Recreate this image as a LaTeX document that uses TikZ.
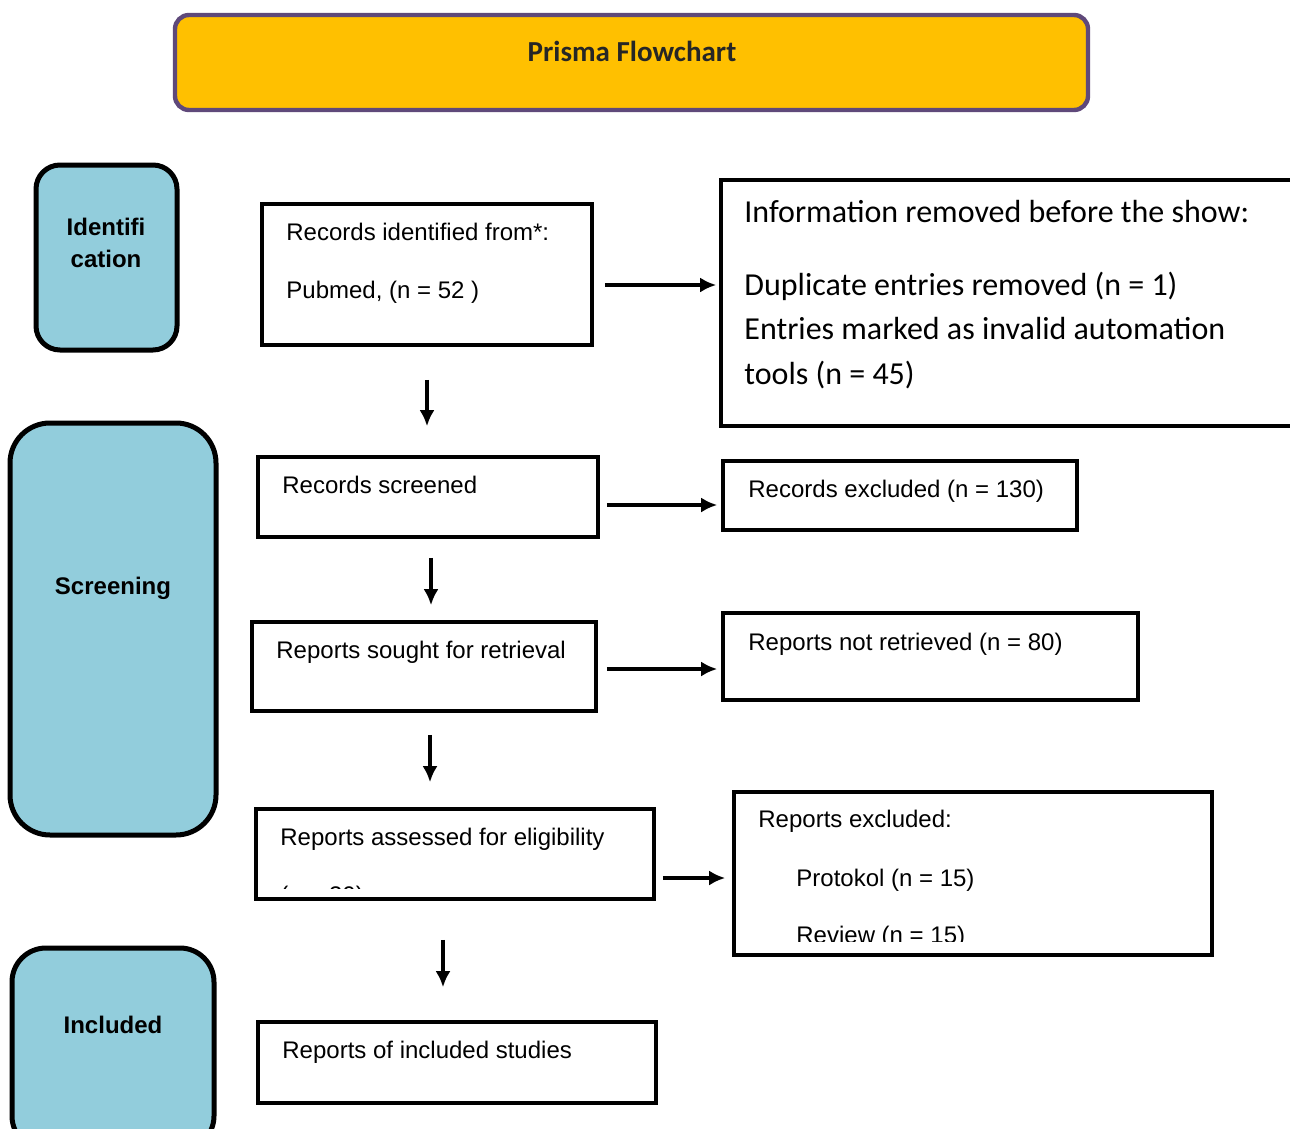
\documentclass[tikz,border=0pt]{standalone}
\usepackage{fontspec}
\setmainfont{Liberation Sans}
\newfontfamily\calib{Carlito}
\usepackage{xcolor}
\usepackage{tikz}
\usetikzlibrary{arrows.meta,calc}
\definecolor{gold}{HTML}{FFC000}
\definecolor{plum}{HTML}{5F497A}
\definecolor{sky}{HTML}{92CDDC}

\begin{document}
\begin{tikzpicture}[x=0.5pt, y=-0.5pt, every node/.style={font=\fontsize{12}{14}\selectfont},
    box/.style={draw, line width=1.8pt, inner sep=0pt},
    phase/.style={draw, line width=2.5pt, fill=sky, inner sep=0pt},
    lbl/.style={font=\bfseries\fontsize{12}{16}\selectfont, align=center},
    txt/.style={anchor=base west, inner sep=0pt},
    info/.style={anchor=base west, inner sep=0pt, font=\calib\fontsize{16}{20}\selectfont},
    arr/.style={line width=1.9pt, -{Latex[length=8pt,width=7.5pt]}}]
  \clip (0,0) rectangle (1290,1129);
  \node[draw=plum, fill=gold, line width=2.2pt, rounded corners=7pt, minimum width=456.5pt, minimum height=47.5pt] (title) at (631.5,62.5) {};
  \node[anchor=base, inner sep=0pt, text=black!85, font=\calib\bfseries\fontsize{14.5}{17}\selectfont] (ttl) at (632,62) {Prisma Flowchart};
  \node[phase, rounded corners=12pt, minimum width=70.5pt, minimum height=92.5pt] (idf) at (106.5,257.5) {};
  \node[lbl] (idft) at (106,243) {Identifi\\cation};
  \node[phase, rounded corners=20pt, minimum width=103pt, minimum height=206pt] (scr) at (113,629) {};
  \node[lbl, anchor=base] (scrt) at (113,594) {Screening};
  \node[phase, rounded corners=17pt, minimum width=101pt, minimum height=101pt] (inc) at (113,1049) {};
  \node[lbl, anchor=base] (inct) at (113,1033) {Included};
  \node[box, minimum width=165pt, minimum height=70.5pt] (b1) at (427,274.5) {};
  \node[txt] (b1a) at (286,240) {Records identified from*:};
  \node[txt] (b1b) at (286,298) {Pubmed, (n = 52 )};
  \node[box, minimum width=170pt, minimum height=40pt] (b2) at (428,497) {};
  \node[txt] (b2a) at (282,493) {Records screened};
  \node[box, minimum width=172pt, minimum height=44.5pt] (b3) at (424,666.5) {};
  \node[txt] (b3a) at (276,658) {Reports sought for retrieval};
  \node[box, minimum width=199pt, minimum height=45pt] (b4) at (455,854) {};
  \node[txt] (b4a) at (280,845) {Reports assessed for eligibility};
  \begin{scope}
    \clip (b4.north west) rectangle ([yshift=6pt]b4.south east);
    \node[txt] (b4b) at (280,903) {(n = 30)};
  \end{scope}
  \node[box, minimum width=199pt, minimum height=40.5pt] (b9) at (457,1062.5) {};
  \node[txt] (b9a) at (282,1058) {Reports of included studies};
  \node[box, minimum width=289.5pt, minimum height=123pt] (b5) at (1010.5,303) {};
  \node[info] (b5a) at (744,222) {Information removed before the show:};
  \node[info] (b5b) at (744,295) {Duplicate entries removed (n = 1)};
  \node[info] (b5c) at (744,339) {Entries marked as invalid automation};
  \node[info] (b5d) at (744,384) {tools (n = 45)};
  \node[box, minimum width=177pt, minimum height=34.5pt] (b6) at (900,495.5) {};
  \node[txt] (b6a) at (748,497) {Records excluded (n = 130)};
  \node[box, minimum width=207.5pt, minimum height=43.5pt] (b7) at (930.5,656.5) {};
  \node[txt] (b7a) at (748,650) {Reports not retrieved (n = 80)};
  \node[box, minimum width=239pt, minimum height=81.5pt] (b8) at (973,873.5) {};
  \node[txt] (b8a) at (758,827) {Reports excluded:};
  \node[txt] (b8b) at (796,886) {Protokol (n = 15)};
  \begin{scope}
    \clip (b8.north west) rectangle ([yshift=7.5pt]b8.south east);
    \node[txt] (b8c) at (796,943) {Review (n = 15)};
  \end{scope}
  \draw[arr, shorten <=5.5pt, shorten >=1.5pt] ([yshift=-5.25pt]b1.east) coordinate (r1) -- (r1 -| b5.west);
  \draw[arr, shorten <=3.5pt, shorten >=2pt] ([yshift=-4pt]b2.east) coordinate (r2) -- (r2 -| b6.west);
  \draw[arr, shorten <=4.5pt, shorten >=2pt] ([yshift=-1.25pt]b3.east) coordinate (r3) -- (r3 -| b7.west);
  \draw[arr, shorten <=3.5pt, shorten >=3.5pt] ([yshift=-12pt]b4.east) coordinate (r4) -- (r4 -| b8.west);
  \draw[arr, shorten <=16.5pt, shorten >=14.5pt] (b1.south) -- (b1.south |- b2.north);
  \draw[arr, shorten <=9.5pt, shorten >=7.5pt] ([xshift=1.5pt]b2.south) coordinate (d2) -- (d2 |- b3.north);
  \draw[arr, shorten <=11pt, shorten >=12.5pt] ([xshift=3pt]b3.south) coordinate (d3) -- (d3 |- b4.north);
  \draw[arr, shorten <=19.5pt, shorten >=16.5pt] ([xshift=-6pt]b4.south) coordinate (d4) -- (d4 |- b9.north);
\end{tikzpicture}
\end{document}
